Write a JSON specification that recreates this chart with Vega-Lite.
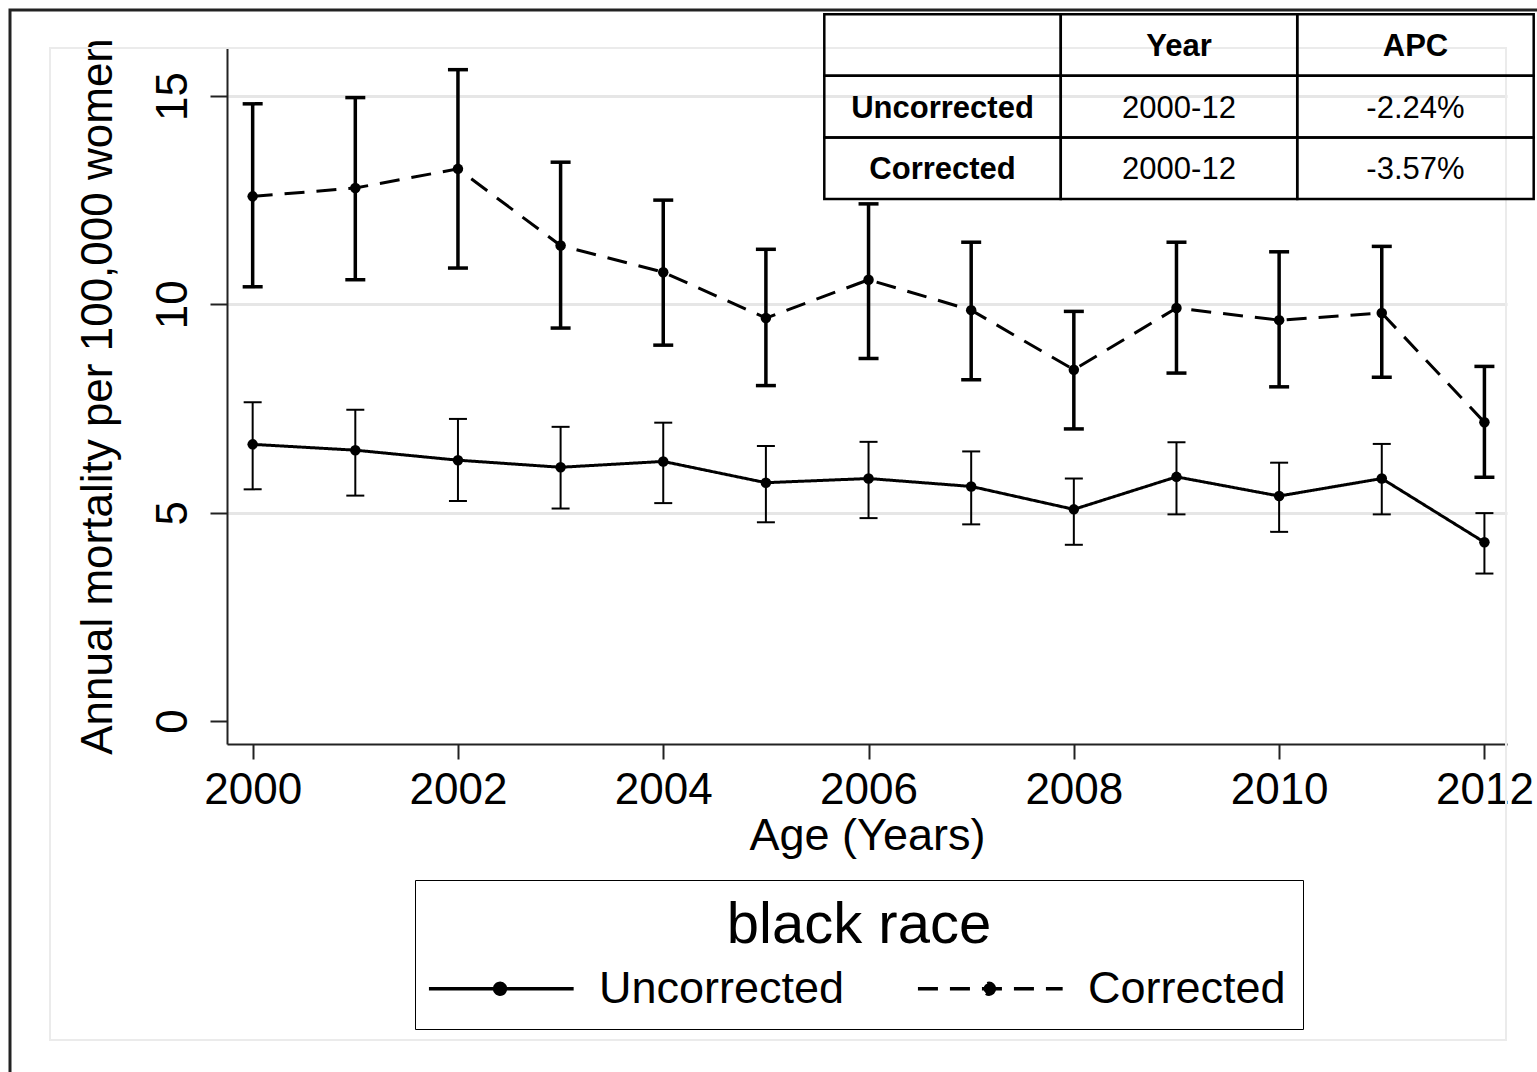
{
  "$schema": "https://vega.github.io/schema/vega-lite/v6.json",
  "width": 1280,
  "height": 696,
  "autosize": "none",
  "padding": {"left": 227, "top": 48, "right": 30, "bottom": 328},
  "background": "white",
  "config": {
    "font": "Liberation Sans",
    "view": {"stroke": null},
    "axis": {
      "domainColor": "#222222", "domainWidth": 2, "tickColor": "#222222", "tickWidth": 2,
      "labelFont": "Liberation Sans", "labelColor": "black", "titleFont": "Liberation Sans",
      "titleColor": "black", "titleFontWeight": "normal"
    },
    "axisX": {"tickSize": 15, "labelFontSize": 44, "labelPadding": 9, "titleFontSize": 45, "titlePadding": 1, "grid": false, "labelFlush": false, "labelOverlap": false},
    "axisY": {"tickSize": 17, "labelFontSize": 44, "labelAngle": 270, "labelAlign": "center", "labelBaseline": "alphabetic", "labelPadding": 24, "titleFontSize": 44, "titlePadding": 31, "gridColor": "#e6e6e6", "gridWidth": 3, "labelFlush": false, "labelOverlap": false},
    "legend": {"labelFont": "Liberation Sans", "titleFont": "Liberation Sans"}
  },
  "layer": [
    {
      "data": {"values": [{"box": "graph region"}]},
      "mark": {"type": "rect", "fill": null, "stroke": "#ebebeb", "strokeWidth": 2},
      "encoding": {
        "x": {"field": "box", "type": "nominal", "scale": {"type": "band", "domain": ["graph region"], "range": [-177, 1279], "paddingInner": 0, "paddingOuter": 0}, "axis": null},
        "y": {"field": "box", "type": "nominal", "scale": {"type": "band", "domain": ["graph region"], "range": [0, 992], "paddingInner": 0, "paddingOuter": 0}, "axis": null}
      }
    },
    {
      "data": {"values": [{"box": "frame"}]},
      "mark": {"type": "rect", "fill": null, "stroke": "#222222", "strokeWidth": 3},
      "encoding": {
        "x": {"field": "box", "type": "nominal", "scale": {"type": "band", "domain": ["frame"], "range": [-217, 1325], "paddingInner": 0, "paddingOuter": 0}, "axis": null},
        "y": {"field": "box", "type": "nominal", "scale": {"type": "band", "domain": ["frame"], "range": [-38, 1040], "paddingInner": 0, "paddingOuter": 0}, "axis": null}
      }
    },
    {
      "data": {"values": [
        {"year": 2000, "series": "Uncorrected", "rate": 6.64, "lo": 5.56, "hi": 7.65},
        {"year": 2001, "series": "Uncorrected", "rate": 6.50, "lo": 5.41, "hi": 7.47},
        {"year": 2002, "series": "Uncorrected", "rate": 6.26, "lo": 5.28, "hi": 7.25},
        {"year": 2003, "series": "Uncorrected", "rate": 6.09, "lo": 5.10, "hi": 7.06},
        {"year": 2004, "series": "Uncorrected", "rate": 6.23, "lo": 5.23, "hi": 7.16},
        {"year": 2005, "series": "Uncorrected", "rate": 5.72, "lo": 4.77, "hi": 6.60},
        {"year": 2006, "series": "Uncorrected", "rate": 5.82, "lo": 4.87, "hi": 6.70},
        {"year": 2007, "series": "Uncorrected", "rate": 5.63, "lo": 4.72, "hi": 6.47},
        {"year": 2008, "series": "Uncorrected", "rate": 5.08, "lo": 4.23, "hi": 5.82},
        {"year": 2009, "series": "Uncorrected", "rate": 5.86, "lo": 4.96, "hi": 6.69},
        {"year": 2010, "series": "Uncorrected", "rate": 5.40, "lo": 4.54, "hi": 6.20},
        {"year": 2011, "series": "Uncorrected", "rate": 5.82, "lo": 4.96, "hi": 6.65},
        {"year": 2012, "series": "Uncorrected", "rate": 4.29, "lo": 3.54, "hi": 4.99},
        {"year": 2000, "series": "Corrected", "rate": 12.59, "lo": 10.42, "hi": 14.81},
        {"year": 2001, "series": "Corrected", "rate": 12.79, "lo": 10.59, "hi": 14.96},
        {"year": 2002, "series": "Corrected", "rate": 13.25, "lo": 10.87, "hi": 15.63},
        {"year": 2003, "series": "Corrected", "rate": 11.41, "lo": 9.43, "hi": 13.41},
        {"year": 2004, "series": "Corrected", "rate": 10.77, "lo": 9.02, "hi": 12.50},
        {"year": 2005, "series": "Corrected", "rate": 9.67, "lo": 8.05, "hi": 11.32},
        {"year": 2006, "series": "Corrected", "rate": 10.59, "lo": 8.70, "hi": 12.41},
        {"year": 2007, "series": "Corrected", "rate": 9.86, "lo": 8.19, "hi": 11.49},
        {"year": 2008, "series": "Corrected", "rate": 8.43, "lo": 7.01, "hi": 9.83},
        {"year": 2009, "series": "Corrected", "rate": 9.91, "lo": 8.35, "hi": 11.49},
        {"year": 2010, "series": "Corrected", "rate": 9.62, "lo": 8.02, "hi": 11.26},
        {"year": 2011, "series": "Corrected", "rate": 9.79, "lo": 8.25, "hi": 11.39},
        {"year": 2012, "series": "Corrected", "rate": 7.17, "lo": 5.85, "hi": 8.51}
      ]},
      "encoding": {
        "x": {"field": "year", "type": "quantitative", "title": "Age (Years)",
              "scale": {"domain": [1999.75, 2012.22], "nice": false, "zero": false},
              "axis": {"values": [2000, 2002, 2004, 2006, 2008, 2010, 2012], "format": "d", "grid": false}},
        "y": {"field": "rate", "type": "quantitative", "title": "Annual mortality per 100,000 women",
              "scale": {"domain": [-0.55, 16.15], "nice": false, "zero": false},
              "axis": {"values": [0, 5, 10, 15], "grid": true,
                       "gridOpacity": {"condition": {"test": "datum.value === 0", "value": 0}, "value": 1}}}
      },
      "layer": [
        {
          "mark": {"type": "line", "color": "black", "strokeWidth": 3},
          "encoding": {
            "strokeDash": {"field": "series", "type": "nominal",
              "scale": {"domain": ["Uncorrected", "Corrected"], "range": [[1, 0], [20, 12]]},
              "legend": {
                "title": "black race", "orient": "none", "legendX": 188, "legendY": 832,
                "direction": "horizontal",
                "symbolType": "M-1.42,0H6.62M2.53,-0.3A0.3,0.3,0,1,1,2.53,0.3A0.3,0.3,0,1,1,2.53,-0.3Z",
                "symbolSize": 1296, "symbolStrokeWidth": 3.5, "symbolStrokeColor": "black", "symbolFillColor": "black",
                "symbolDash": [16, 11],
                "labelOffset": 122, "columnPadding": 65, "padding": 17,
                "strokeColor": "black", "fillColor": "white",
                "titleAnchor": "middle", "titleFontSize": 58, "titleFontWeight": "normal", "titleColor": "black", "titlePadding": 11,
                "labelFontSize": 45, "labelColor": "black", "labelLimit": 1000, "titleLimit": 2000,
                "encode": {"symbols": {"update": {"fill": {"value": "black"}, "stroke": {"value": "black"}, "opacity": {"value": 1}}}}
              }}
          }
        },
        {
          "transform": [{"filter": "datum.series === 'Uncorrected'"}],
          "mark": {"type": "rule", "color": "black", "strokeWidth": 2},
          "encoding": {
            "y": {"field": "lo", "type": "quantitative", "title": "Annual mortality per 100,000 women"},
            "y2": {"field": "hi"}
          }
        },
        {
          "transform": [{"filter": "datum.series === 'Uncorrected'"}],
          "mark": {"type": "tick", "orient": "horizontal", "color": "black", "size": 18, "thickness": 2, "opacity": 1},
          "encoding": {"y": {"field": "lo", "type": "quantitative", "title": "Annual mortality per 100,000 women"}}
        },
        {
          "transform": [{"filter": "datum.series === 'Uncorrected'"}],
          "mark": {"type": "tick", "orient": "horizontal", "color": "black", "size": 18, "thickness": 2, "opacity": 1},
          "encoding": {"y": {"field": "hi", "type": "quantitative", "title": "Annual mortality per 100,000 women"}}
        },
        {
          "transform": [{"filter": "datum.series === 'Corrected'"}],
          "mark": {"type": "rule", "color": "black", "strokeWidth": 3.5},
          "encoding": {
            "y": {"field": "lo", "type": "quantitative", "title": "Annual mortality per 100,000 women"},
            "y2": {"field": "hi"}
          }
        },
        {
          "transform": [{"filter": "datum.series === 'Corrected'"}],
          "mark": {"type": "tick", "orient": "horizontal", "color": "black", "size": 20, "thickness": 3.5, "opacity": 1},
          "encoding": {"y": {"field": "lo", "type": "quantitative", "title": "Annual mortality per 100,000 women"}}
        },
        {
          "transform": [{"filter": "datum.series === 'Corrected'"}],
          "mark": {"type": "tick", "orient": "horizontal", "color": "black", "size": 20, "thickness": 3.5, "opacity": 1},
          "encoding": {"y": {"field": "hi", "type": "quantitative", "title": "Annual mortality per 100,000 women"}}
        },
        {
          "mark": {"type": "circle", "color": "black", "size": 110, "opacity": 1}
        }
      ]
    },
    {
      "data": {"values": [
        {"row": "Header", "col": "Group", "text": ""},
        {"row": "Header", "col": "Year", "text": "Year"},
        {"row": "Header", "col": "APC", "text": "APC"},
        {"row": "Uncorrected", "col": "Group", "text": "Uncorrected"},
        {"row": "Uncorrected", "col": "Year", "text": "2000-12"},
        {"row": "Uncorrected", "col": "APC", "text": "-2.24%"},
        {"row": "Corrected", "col": "Group", "text": "Corrected"},
        {"row": "Corrected", "col": "Year", "text": "2000-12"},
        {"row": "Corrected", "col": "APC", "text": "-3.57%"}
      ]},
      "encoding": {
        "x": {"field": "col", "type": "nominal",
              "scale": {"type": "band", "domain": ["Group", "Year", "APC"], "range": [597.3, 1306.7], "paddingInner": 0, "paddingOuter": 0},
              "axis": null},
        "y": {"field": "row", "type": "nominal",
              "scale": {"type": "band", "domain": ["Header", "Uncorrected", "Corrected"], "range": [-33.7, 151], "paddingInner": 0, "paddingOuter": 0},
              "axis": null}
      },
      "layer": [
        {"mark": {"type": "rect", "fill": null, "stroke": "black", "strokeWidth": 2.5}},
        {
          "transform": [{"filter": "datum.row === 'Header' || datum.col === 'Group'"}],
          "mark": {"type": "text", "fontWeight": "bold", "fontSize": 31, "color": "black", "font": "Liberation Sans", "dy": 2},
          "encoding": {"text": {"field": "text"}}
        },
        {
          "transform": [{"filter": "datum.row !== 'Header' && datum.col !== 'Group'"}],
          "mark": {"type": "text", "fontSize": 31, "color": "black", "font": "Liberation Sans", "dy": 2},
          "encoding": {"text": {"field": "text"}}
        }
      ]
    }
  ],
  "resolve": {"scale": {"x": "independent", "y": "independent"}}
}
